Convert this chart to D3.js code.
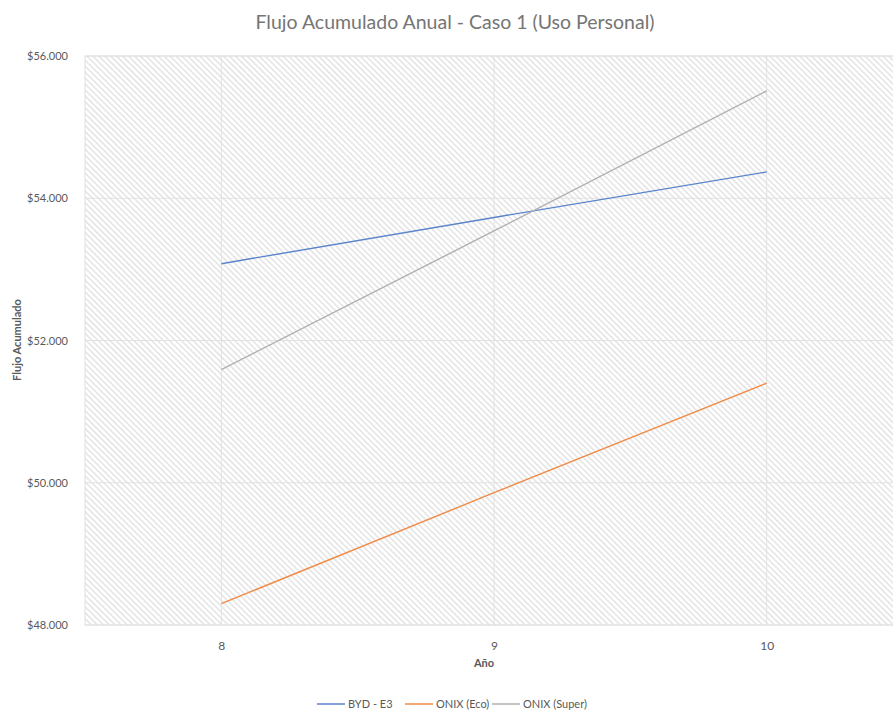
<!DOCTYPE html>
<html>
<head>
<meta charset="utf-8">
<script src="https://cdn.jsdelivr.net/npm/d3@7"></script>
<style>
	body { margin: 0; background: #fff; }
	svg { display: block; font-family: Lato, "Open Sans", sans-serif; }
</style>
</head>
<body>
<svg class="chart"></svg>
<script>
// data
var years = ["8", "9", "10"];
var bydE3 = [53080, 53730, 54370];
var onixEco = [48300, 49860, 51400];
var onixSuper = [51590, 53540, 55510];
var yTicks = [48000, 50000, 52000, 54000, 56000];

var seriesNames = ["BYD - E3", "ONIX (Eco)", "ONIX (Super)"];
var seriesValues = [bydE3, onixEco, onixSuper];
var colors = ["#5a84cc", "#F08a46", "#b0b0b0"];

var width = 893,
	height = 711;
var margin = { top: 56, right: -10, bottom: 86, left: 85 };

var svg = d3.select(".chart").attr("width", width).attr("height", height);

// diagonal hatch fill for the plot area
var defs = svg.append("defs");
var pat = defs
	.append("pattern")
	.attr("id", "hatch")
	.attr("patternUnits", "userSpaceOnUse")
	.attr("width", 4.2)
	.attr("height", 10)
	.attr("patternTransform", "rotate(-45)");
pat.append("rect").attr("width", 4.2).attr("height", 10).attr("fill", "#fff");
pat
	.append("rect")
	.attr("width", 1.5)
	.attr("height", 10)
	.attr("fill", "#e3e3e3");

let x = d3
	.scalePoint()
	.domain(years)
	.range([margin.left, width - margin.right])
	.padding(0.5);

let y = d3
	.scaleLinear()
	.domain([48000, 56000])
	.range([height - margin.bottom, margin.top]);

var fmt = (v) => "$" + d3.format(",")(v).replace(/,/g, ".");

svg
	.append("rect")
	.attr("x", margin.left)
	.attr("y", margin.top)
	.attr("width", width - margin.right - margin.left)
	.attr("height", height - margin.bottom - margin.top)
	.attr("fill", "url(#hatch)")
	.attr("stroke", "#e0e0e0");

// gridlines
svg
	.append("g")
	.selectAll("line")
	.data(yTicks)
	.join("line")
	.attr("x1", margin.left)
	.attr("x2", width)
	.attr("y1", (d) => y(d))
	.attr("y2", (d) => y(d))
	.attr("stroke", "#e2e2e2")
	.attr("stroke-width", 1);

svg
	.append("g")
	.selectAll("line")
	.data(years)
	.join("line")
	.attr("x1", (d) => x(d))
	.attr("x2", (d) => x(d))
	.attr("y1", margin.top)
	.attr("y2", height - margin.bottom)
	.attr("stroke", "#e2e2e2")
	.attr("stroke-width", 1);

// axes
let yAxis = (g) =>
	g
		.attr("transform", `translate(${margin.left - 14},0)`)
		.call(d3.axisLeft(y).tickValues(yTicks).tickFormat(fmt).tickSize(0))
		.call((g) => g.select(".domain").remove())
		.call((g) =>
			g
				.selectAll("text")
				.attr("fill", "#595959")
				.attr("font-size", 11)
				.attr("font-family", "Lato, sans-serif")
		);

let xAxis = (g) =>
	g
		.attr("transform", `translate(0,${height - margin.bottom + 13})`)
		.call(d3.axisBottom(x).tickSize(0))
		.call((g) => g.select(".domain").remove())
		.call((g) =>
			g
				.selectAll("text")
				.attr("fill", "#595959")
				.attr("font-size", 12)
				.attr("font-family", "Lato, sans-serif")
		);

svg.append("g").call(yAxis);
svg.append("g").call(xAxis);

// lines
let line = d3
	.line()
	.x((d, i) => x(years[i]))
	.y((d) => y(d));

svg
	.append("g")
	.selectAll("path")
	.data(seriesValues)
	.join("path")
	.attr("d", (d) => line(d))
	.attr("fill", "none")
	.attr("stroke", (d, i) => colors[i])
	.attr("stroke-width", 1.4);

// titles
svg
	.append("text")
	.attr("x", 455)
	.attr("y", 29)
	.attr("text-anchor", "middle")
	.attr("font-size", 19.5)
	.attr("fill", "#757575")
	.text("Flujo Acumulado Anual - Caso 1 (Uso Personal)");

svg
	.append("text")
	.attr("x", 484)
	.attr("y", 667)
	.attr("text-anchor", "middle")
	.attr("font-size", 11)
	.attr("font-weight", "bold")
	.attr("fill", "#595959")
	.text("Año");

svg
	.append("text")
	.attr("transform", "translate(21,340) rotate(-90)")
	.attr("text-anchor", "middle")
	.attr("font-size", 11)
	.attr("font-weight", "bold")
	.attr("fill", "#595959")
	.text("Flujo Acumulado");

// legend
var legendX = [317, 405, 492];
var legend = svg
	.append("g")
	.selectAll("g")
	.data(seriesNames)
	.join("g")
	.attr("transform", (d, i) => `translate(${legendX[i]},704)`);
legend
	.append("line")
	.attr("x1", 0)
	.attr("x2", 28)
	.attr("stroke", (d, i) => colors[i])
	.attr("stroke-width", 1.5);
legend
	.append("text")
	.attr("x", 31)
	.attr("y", 4)
	.attr("font-size", 11)
	.attr("fill", "#595959")
	.text((d) => d);
</script>
</body>
</html>
